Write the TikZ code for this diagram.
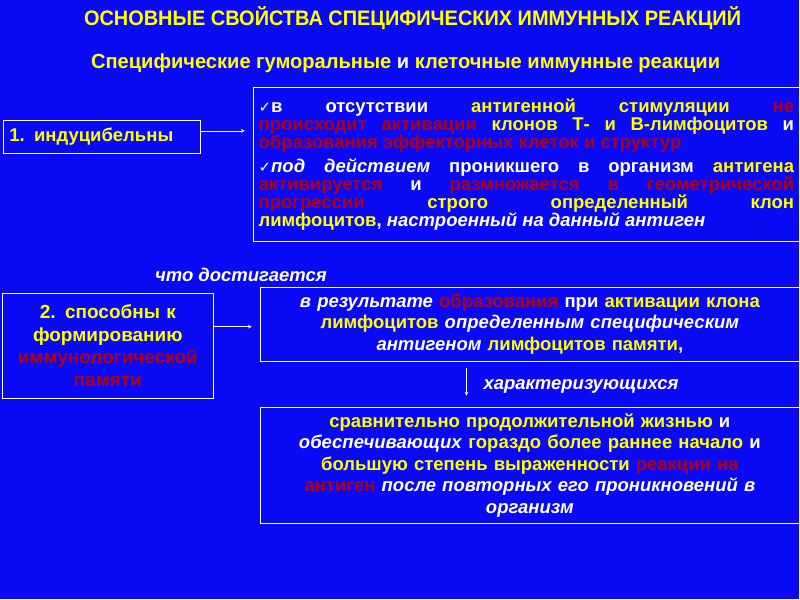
\documentclass[tikz,border=0pt]{standalone}
\usepackage{fontspec}
\setmainfont{Liberation Sans}
\newfontfamily\djv{DejaVu Sans}
\definecolor{bg}{HTML}{0A0AF5}
\definecolor{yel}{HTML}{FFFF00}
\definecolor{rdd}{HTML}{B00010}
\newcommand\yl[1]{\textcolor{yel}{#1}}
\newcommand\rd[1]{\textcolor{rdd}{#1}}
\newcommand\ck{{\djv\fontsize{15}{15}\selectfont ✓}}
\begin{document}
\begin{tikzpicture}[x=1pt,y=-1pt,
  box/.style={draw=white,line width=0.8pt,text=white,font=\bfseries\fontsize{18.5}{21.5}\selectfont},
  arr/.style={white,line width=0.7pt,-stealth}]
\fill[bg] (0,0) rectangle (800,600);
\node[text=yel,font=\bfseries\fontsize{21}{24}\selectfont] (t) at (413,18) {\scalebox{0.95}[1]{ОСНОВНЫЕ СВОЙСТВА СПЕЦИФИЧЕСКИХ ИММУННЫХ РЕАКЦИЙ}};
\node[text=yel,font=\bfseries\fontsize{20.5}{24}\selectfont] (s) at (406,63) {\scalebox{0.98}[1]{Специфические гуморальные \textcolor{white}{и} клеточные иммунные реакции}};
\node[box,text=yel,minimum width=197,minimum height=33,anchor=north west,align=left,text width=185,inner sep=4] (a) at (3,120) {1. индуцибельны};
\node[box,anchor=north west,minimum width=547,minimum height=154,text width=536,inner sep=4,align=justify,font=\bfseries\fontsize{18.5}{18}\selectfont] (b) at (253,87)
{\ck в отсутствии \yl{антигенной стимуляции} \rd{не}\linebreak \rd{происходит активации} \yl{клонов Т- и В-лимфоцитов} и\linebreak \rd{образования эффекторных клеток и структур}\par\vspace{6pt}
\ck\textit{под действием} проникшего в организм \yl{антигена}\linebreak \rd{активируется} и \rd{размножается в геометрической}\linebreak \rd{прогрессии} \yl{строго определенный клон}\linebreak \yl{лимфоцитов}, \textit{настроенный на данный антиген}\par};
\node[box,anchor=north west,minimum width=211,minimum height=105,text width=205,inner sep=2,align=center,font=\bfseries\fontsize{19}{22.5}\selectfont] (c) at (2,293)
{\yl{2. способны к}\\\yl{формированию}\\\rd{иммунологической}\\\rd{памяти}};
\node[box,anchor=north west,minimum width=540,minimum height=74,text width=530,inner sep=2,align=center] (d) at (260,287)
{\textit{в результате} \rd{образования} при \yl{активации клона}\\\yl{лимфоцитов} \textit{определенным специфическим}\\\textit{антигеном} \yl{лимфоцитов памяти},};
\node[box,anchor=north west,minimum width=540,minimum height=117,text width=530,inner sep=2,align=center] (e) at (260,407)
{\yl{сравнительно продолжительной жизнью} и\\\textit{обеспечивающих} \yl{гораздо более раннее начало} и\\\yl{большую степень выраженности} \rd{реакции на}\\\rd{антиген} \textit{после повторных его проникновений в}\\\textit{организм}};
\node[text=white,font=\bfseries\itshape\fontsize{18.5}{20}\selectfont,anchor=west,inner sep=0] (l1) at (155,275) {что достигается};
\node[text=white,font=\bfseries\itshape\fontsize{18.5}{20}\selectfont,anchor=west,inner sep=0] (l2) at (484,387) {характеризующихся};
\coordinate (b1) at (245,131);
\draw[arr] (a.east|-b1) -- (b1);
\coordinate (d1) at (252,327);
\draw[arr] (c.east|-d1) -- (d1);
\coordinate (d2) at (467,368);
\coordinate (e2) at (467,396);
\draw[arr] (d2) -- (e2);
\end{tikzpicture}
\end{document}
